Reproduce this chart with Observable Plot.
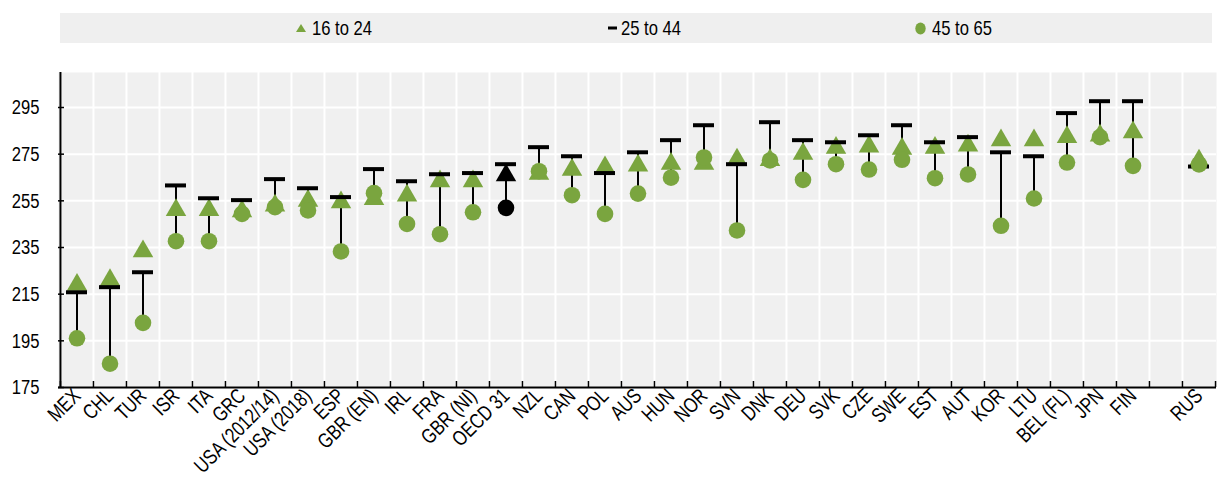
<!DOCTYPE html>
<html><head><meta charset="utf-8">
<script src="https://cdn.jsdelivr.net/npm/d3@7"></script>
<script src="https://cdn.jsdelivr.net/npm/@observablehq/plot@0.6"></script>
<style>
body{margin:0;background:#fff;font-family:"Liberation Sans",Arial,sans-serif;}
#legend{position:relative;margin:13px 0 0 60px;width:1152px;height:30px;background:#efefef;}
.item{position:absolute;top:0;height:30px;display:flex;align-items:center;color:#000;white-space:nowrap}
.item svg{margin-right:6px}
.item span{display:inline-block;font-size:21px;transform:scaleX(0.79);transform-origin:0 50%}
#chart{line-height:0}
</style></head><body>
<div id="legend">
  <div class="item" style="left:236px"><svg width="10" height="8"><polygon points="5,0 10,8 0,8" fill="#7aa53f"/></svg><span>16 to 24</span></div>
  <div class="item" style="left:548px"><svg width="9" height="10" style="margin-right:4px"><rect x="0" y="3.5" width="9" height="3" fill="#000"/></svg><span>25 to 44</span></div>
  <div class="item" style="left:855px"><svg width="11" height="13"><ellipse cx="5.5" cy="6.5" rx="5.2" ry="6" fill="#7aa53f"/></svg><span>45 to 65</span></div>
</div>
<div id="chart"></div>
<script>
const countries = ["MEX","CHL","TUR","ISR","ITA","GRC","USA (2012/14)","USA (2018)","ESP","GBR (EN)","IRL","FRA","GBR (NI)","OECD 31","NZL","CAN","POL","AUS","HUN","NOR","SVN","DNK","DEU","SVK","CZE","SWE","EST","AUT","KOR","LTU","BEL (FL)","JPN","FIN","RUS"];
const age16_24 = [219,221,233.4,251,251,250.5,253,255,254.4,255.8,257.3,263.4,263.4,265.9,266.6,268.3,269.4,270.1,270.9,270.9,272.7,272.5,275.1,277.7,278.3,277.3,277.7,278.7,280.9,280.9,282.3,283,284.4,272.3];
const age25_44 = [215.8,218,224.4,261.6,256.1,255.3,264.3,260.4,256.6,268.6,263.4,266.4,266.9,270.7,278,274.1,266.9,275.8,281,287.4,270.7,288.7,281,280.1,283.1,287.4,280.1,282.3,275.8,274.1,292.6,297.7,297.7,269.7];
const age45_65 = [196.1,185.2,202.7,237.7,237.7,249.4,252.3,250.9,233.3,258.3,245.1,240.7,250.1,252,267.7,257.4,249.4,258.1,264.9,273.6,242.3,272.3,264,270.7,268.4,272.6,264.7,266.3,244.3,256,271.4,282.3,270,270.6];
const yTicks = [175,195,215,235,255,275,295];
const highlight = "OECD 31";
const green = "#7aa53f";

const W = 1218, H = 443, ML = 58, MR = 2, MT = 29, MB = 99;
const domainX = [...countries.slice(0, -1), "", countries[countries.length - 1]];
const plotW = W - ML - MR, plotH = H - MT - MB;
const bw = plotW / domainX.length;
const data = countries.map((c, i) => ({c, a: age16_24[i], b: age25_44[i], d: age45_65[i], col: c === highlight ? "#000" : green}));
const font = '"Liberation Sans",Arial,sans-serif';

const chart = Plot.plot({
  width: W, height: H, marginLeft: ML, marginRight: MR, marginTop: MT, marginBottom: MB,
  style: {fontFamily: font, fontSize: "21px", color: "#000", background: "transparent"},
  x: {type: "band", domain: domainX, padding: 0},
  y: {domain: [175, 310]},
  marks: [
    Plot.frame({fill: "#f0f0f0", stroke: null}),
    Plot.ruleY(yTicks, {y: d => d, stroke: "#fff", strokeWidth: 2}),
    Plot.ruleX(domainX, {x: d => d, dx: -bw / 2, stroke: "#fff", strokeWidth: 2}),
    Plot.axisY(yTicks, {tickSize: 0, tickPadding: 19, label: null, fontSize: 21}),
    Plot.axisX({tickRotate: -45, tickSize: 0, tickPadding: 5, label: null, fontSize: 21, tickFormat: d => d}),
    Plot.tickY(yTicks, {y: d => d, insetRight: plotW - 6, stroke: "#000", strokeWidth: 1.5}),
    Plot.tickX(domainX, {x: d => d, dx: -bw / 2, insetTop: plotH - 6, stroke: "#000", strokeWidth: 1.5}),
    Plot.tickX([domainX[domainX.length - 1]], {x: d => d, dx: bw / 2, insetTop: plotH - 6, stroke: "#000", strokeWidth: 1.5}),
    Plot.ruleY([175], {y: d => d, stroke: "#000", strokeWidth: 2}),
    Plot.ruleX([domainX[0]], {x: d => d, dx: -bw / 2, stroke: "#000", strokeWidth: 2}),
    Plot.ruleX(data, {x: "c", y1: "b", y2: "d", stroke: "#000", strokeWidth: 2}),
    Plot.dot(data, {x: "c", y: "a", symbol: "triangle", r: 7.6, fill: "col", stroke: null}),
    Plot.tickY(data, {x: "c", y: "b", stroke: "#000", strokeWidth: 4, insetLeft: 6, insetRight: 6}),
    Plot.dot(data, {x: "c", y: "d", r: 8.3, fill: "col", stroke: null})
  ]
});
// condense tick labels horizontally along their baseline (narrow-font look)
chart.querySelectorAll('g[aria-label$="tick label"] text').forEach(t => {
  const tr = t.getAttribute("transform");
  if (tr) {
    t.setAttribute("transform", `${tr} scale(0.79,1)`);
  } else {
    const x = +t.getAttribute("x") || 0;
    t.removeAttribute("x");
    t.setAttribute("transform", `translate(${x},0) scale(0.79,1)`);
  }
});
document.getElementById("chart").appendChild(chart);
</script>
</body></html>
